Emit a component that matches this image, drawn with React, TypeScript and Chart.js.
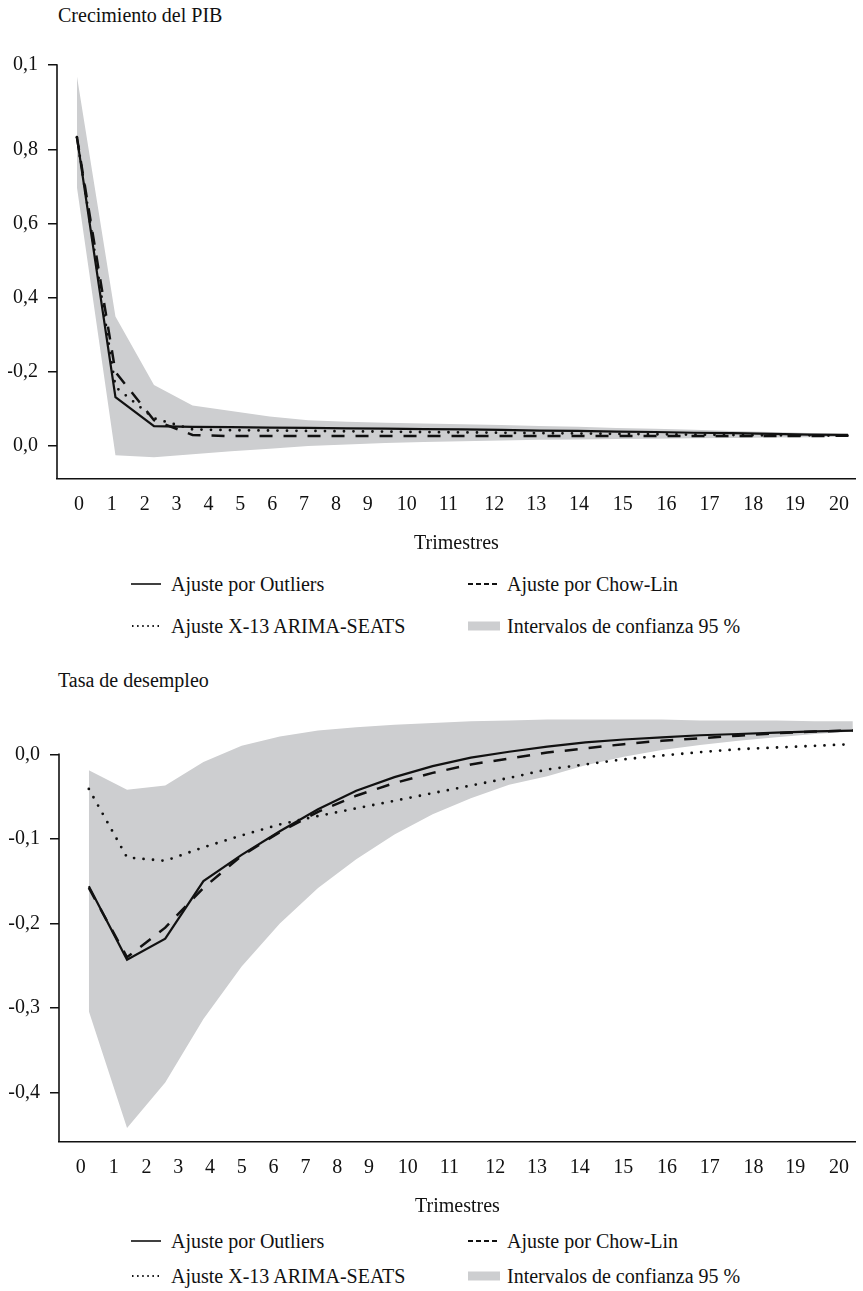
import React, { useEffect, useRef } from "react";
import { Chart, registerables } from "chart.js";

Chart.register(...registerables);

// ---------- shared axis data ----------
const trimestres = [0, 1, 2, 3, 4, 5, 6, 7, 8, 9, 10, 11, 12, 13, 14, 15, 16, 17, 18, 19, 20];
const xTickLabels = ["0", "1", "2", "3", "4", "5", "6", "7", "8", "9", "10", "11", "12", "13", "14", "15", "16", "17", "18", "19", "20"];
// where each tick label sits along the axis (fraction of axis length)
const xTickFrac = [0.0274, 0.0686, 0.1097, 0.1496, 0.1895, 0.2294, 0.2693, 0.3092, 0.3491, 0.389, 0.4377, 0.49, 0.5474, 0.5998, 0.6534, 0.7082, 0.7631, 0.8167, 0.8716, 0.9239, 0.9788];

// ---------- Crecimiento del PIB ----------
const pibOutliers = [0.835, 0.132, 0.054, 0.052, 0.051, 0.05, 0.049, 0.048, 0.047, 0.046, 0.045, 0.044, 0.042, 0.041, 0.039, 0.038, 0.036, 0.035, 0.033, 0.031, 0.03];
const pibChowLin = [0.835, 0.2, 0.07, 0.03, 0.027, 0.027, 0.027, 0.027, 0.027, 0.027, 0.027, 0.027, 0.027, 0.027, 0.027, 0.027, 0.027, 0.027, 0.027, 0.027, 0.028];
const pibX13 = [0.835, 0.16, 0.075, 0.045, 0.043, 0.042, 0.041, 0.04, 0.039, 0.038, 0.037, 0.036, 0.035, 0.034, 0.033, 0.032, 0.031, 0.03, 0.029, 0.029, 0.028];
const pibBandHigh = [1.0, 0.35, 0.165, 0.11, 0.095, 0.08, 0.07, 0.066, 0.063, 0.061, 0.059, 0.057, 0.054, 0.052, 0.049, 0.047, 0.044, 0.041, 0.038, 0.035, 0.032];
const pibBandLow = [0.7, -0.025, -0.03, -0.022, -0.014, -0.007, 0.0, 0.004, 0.008, 0.011, 0.013, 0.015, 0.017, 0.018, 0.019, 0.02, 0.021, 0.022, 0.023, 0.024, 0.025];
const pibYTicks = [0, 0.2, 0.4, 0.6, 0.8, 1.03];
const pibYTickLabels = ["0,0", "-0,2", "0,4", "0,6", "0,8", "0,1"];

// ---------- Tasa de desempleo ----------
const desOutliers = [-0.156, -0.243, -0.218, -0.15, -0.119, -0.091, -0.065, -0.043, -0.027, -0.014, -0.004, 0.003, 0.009, 0.014, 0.0175, 0.02, 0.0225, 0.024, 0.0255, 0.027, 0.028];
const desChowLin = [-0.158, -0.24, -0.205, -0.158, -0.12, -0.092, -0.068, -0.049, -0.034, -0.022, -0.012, -0.005, 0.002, 0.007, 0.012, 0.016, 0.019, 0.022, 0.025, 0.027, 0.028];
const desX13 = [-0.041, -0.122, -0.126, -0.11, -0.096, -0.083, -0.073, -0.064, -0.055, -0.046, -0.037, -0.028, -0.018, -0.012, -0.006, -0.0015, 0.0025, 0.006, 0.008, 0.01, 0.012];
const desBandHigh = [-0.019, -0.042, -0.037, -0.009, 0.01, 0.021, 0.028, 0.032, 0.035, 0.037, 0.039, 0.04, 0.041, 0.041, 0.041, 0.041, 0.04, 0.04, 0.04, 0.039, 0.039];
const desBandLow = [-0.304, -0.442, -0.388, -0.313, -0.251, -0.2, -0.158, -0.124, -0.095, -0.071, -0.052, -0.036, -0.026, -0.013, -0.003, 0.005, 0.011, 0.016, 0.02, 0.024, 0.027];
const desYTicks = [0, -0.1, -0.2, -0.3, -0.4];
const desYTickLabels = ["0,0", "-0,1", "-0,2", "-0,3", "-0,4"];

// ---------- labels ----------
const seriesNames = ["Ajuste por Outliers", "Ajuste por Chow-Lin", "Ajuste X-13 ARIMA-SEATS", "Intervalos de confianza 95 %"];
const axisTitle = "Trimestres";

const FONT = "'Liberation Serif', 'Times New Roman', Times, serif";
const INK = "#111111";
const BAND = "#cdced0";

// y-axis line that starts at the highest tick (the band may rise above it)
const yAxisLine = {
  id: "yAxisLine",
  afterDraw(chart: any, _args: any, opts: any) {
    const y = chart.scales.y;
    const { left, bottom } = chart.chartArea;
    const top = y.getPixelForValue(opts.from);
    const ctx = chart.ctx;
    ctx.save();
    ctx.strokeStyle = INK;
    ctx.lineWidth = 1.6;
    ctx.beginPath();
    ctx.moveTo(left, top - 0.75);
    ctx.lineTo(left, bottom);
    ctx.stroke();
    ctx.restore();
  },
};

type PanelProps = {
  top: number;
  height: number;
  padTop: number;
  yAxisWidth: number;
  xMin: number;
  xMax: number;
  yMin: number;
  yMax: number;
  yTicks: number[];
  yTickLabels: string[];
  outliers: number[];
  chowLin: number[];
  x13: number[];
  bandLow: number[];
  bandHigh: number[];
};

const toPts = (arr: number[]) => trimestres.map((t, i) => ({ x: t, y: arr[i] }));

function Panel(p: PanelProps) {
  const ref = useRef<HTMLCanvasElement | null>(null);
  useEffect(() => {
    if (!ref.current) return;
    const chart = new Chart(ref.current, {
      type: "line",
      data: {
        // Chart.js paints the first dataset last (on top)
        datasets: [
          {
            label: seriesNames[0],
            data: toPts(p.outliers),
            borderColor: INK,
            borderWidth: 2.2,
            pointRadius: 0,
            fill: false,
            clip: false,
          },
          {
            label: seriesNames[1],
            data: toPts(p.chowLin),
            borderColor: INK,
            borderWidth: 2.5,
            borderDash: [13, 11],
            pointRadius: 0,
            fill: false,
            clip: false,
          },
          {
            label: seriesNames[2],
            data: toPts(p.x13),
            borderColor: INK,
            borderWidth: 2.8,
            borderDash: [0, 9.5],
            borderCapStyle: "round",
            pointRadius: 0,
            fill: false,
            clip: false,
          },
          {
            label: seriesNames[3],
            data: toPts(p.bandHigh),
            borderWidth: 0,
            borderColor: "rgba(0,0,0,0)",
            backgroundColor: BAND,
            pointRadius: 0,
            fill: "+1",
            clip: false,
          },
          {
            label: seriesNames[3] + " (inf)",
            data: toPts(p.bandLow),
            borderWidth: 0,
            borderColor: "rgba(0,0,0,0)",
            pointRadius: 0,
            fill: false,
            clip: false,
          },
        ],
      } as any,
      options: {
        animation: false,
        responsive: false,
        maintainAspectRatio: false,
        devicePixelRatio: 1,
        layout: { padding: { top: p.padTop, right: 3, bottom: 0, left: 0 } },
        elements: { line: { tension: 0 }, point: { radius: 0 } },
        plugins: {
          legend: { display: false },
          tooltip: { enabled: false },
          title: { display: false },
          yAxisLine: { from: Math.max(...p.yTicks) },
        },
        scales: {
          x: {
            type: "linear",
            min: p.xMin,
            max: p.xMax,
            afterBuildTicks: (s: any) => {
              s.ticks = xTickFrac.map((f) => ({ value: s.min + f * (s.max - s.min) }));
            },
            afterFit: (s: any) => {
              s.height = 77;
            },
            grid: { display: false, drawTicks: false },
            border: { display: true, color: INK, width: 1.6 },
            ticks: {
              autoSkip: false,
              maxRotation: 0,
              minRotation: 0,
              padding: 14,
              color: INK,
              font: { family: FONT, size: 20 },
              callback: (_v: any, i: number) => xTickLabels[i],
            },
            title: {
              display: true,
              text: axisTitle,
              color: INK,
              font: { family: FONT, size: 20 },
              padding: { top: 0, bottom: 0 },
            },
          },
          y: {
            type: "linear",
            min: p.yMin,
            max: p.yMax,
            afterBuildTicks: (s: any) => {
              s.ticks = p.yTicks.map((v) => ({ value: v }));
            },
            afterFit: (s: any) => {
              s.width = p.yAxisWidth;
            },
            grid: {
              display: true,
              drawOnChartArea: false,
              drawTicks: true,
              tickLength: 9,
              color: INK,
              lineWidth: 1.5,
            },
            border: { display: false },
            ticks: {
              padding: 10,
              color: INK,
              font: { family: FONT, size: 20 },
              callback: (_v: any, i: number) => p.yTickLabels[i],
            },
          },
        },
      } as any,
      plugins: [yAxisLine as any],
    });
    return () => chart.destroy();
  }, []);
  return (
    <canvas
      ref={ref}
      width={855}
      height={p.height}
      style={{ position: "absolute", left: 8, top: p.top, width: 855, height: p.height }}
    />
  );
}

function Text({ x, y, children }: { x: number; y: number; children: React.ReactNode }) {
  return (
    <div
      style={{
        position: "absolute",
        left: x,
        top: y - 12,
        fontFamily: FONT,
        fontSize: 20,
        lineHeight: "24px",
        color: INK,
        whiteSpace: "nowrap",
      }}
    >
      {children}
    </div>
  );
}

function Sample({ kind, x, y }: { kind: number; x: number; y: number }) {
  let inner: React.ReactNode = null;
  if (kind === 0) inner = <line x1={0} y1={6} x2={30} y2={6} stroke={INK} strokeWidth={1.6} />;
  if (kind === 1) inner = <line x1={1} y1={6} x2={31} y2={6} stroke={INK} strokeWidth={2} strokeDasharray="5,3" />;
  if (kind === 2)
    inner = <line x1={1} y1={6} x2={31} y2={6} stroke={INK} strokeWidth={2} strokeDasharray="1.5,3.6" />;
  if (kind === 3) inner = <rect x={0} y={1.5} width={32} height={9} fill={BAND} />;
  return (
    <svg width={34} height={12} style={{ position: "absolute", left: x, top: y - 6 }}>
      {inner}
    </svg>
  );
}

function Legend({ y1, y2 }: { y1: number; y2: number }) {
  return (
    <>
      <Sample kind={0} x={131} y={y1} />
      <Text x={171} y={y1}>{seriesNames[0]}</Text>
      <Sample kind={1} x={467} y={y1} />
      <Text x={507} y={y1}>{seriesNames[1]}</Text>
      <Sample kind={2} x={131} y={y2} />
      <Text x={171} y={y2}>{seriesNames[2]}</Text>
      <Sample kind={3} x={468} y={y2} />
      <Text x={507} y={y2}>{seriesNames[3]}</Text>
    </>
  );
}

export default function App() {
  useEffect(() => {
    document.documentElement.style.overflow = "hidden";
    document.body.style.overflow = "hidden";
  }, []);
  return (
    <div style={{ position: "absolute", left: 0, top: 0, width: 863, height: 1291 }}>
      <Text x={58} y={15}>Crecimiento del PIB</Text>
      <Panel
        top={0}
        height={556}
        padTop={65}
        yAxisWidth={49}
        xMin={-0.516}
        xMax={20.206}
        yMin={-0.089}
        yMax={1.03}
        yTicks={pibYTicks}
        yTickLabels={pibYTickLabels}
        outliers={pibOutliers}
        chowLin={pibChowLin}
        x13={pibX13}
        bandLow={pibBandLow}
        bandHigh={pibBandHigh}
      />
      <Legend y1={584} y2={626} />

      <Text x={58} y={680}>Tasa de desempleo</Text>
      <Panel
        top={690}
        height={529}
        padTop={17}
        yAxisWidth={51}
        xMin={-0.781}
        xMax={20.078}
        yMin={-0.4585}
        yMax={0.05}
        yTicks={desYTicks}
        yTickLabels={desYTickLabels}
        outliers={desOutliers}
        chowLin={desChowLin}
        x13={desX13}
        bandLow={desBandLow}
        bandHigh={desBandHigh}
      />
      <Legend y1={1241} y2={1276} />
    </div>
  );
}
